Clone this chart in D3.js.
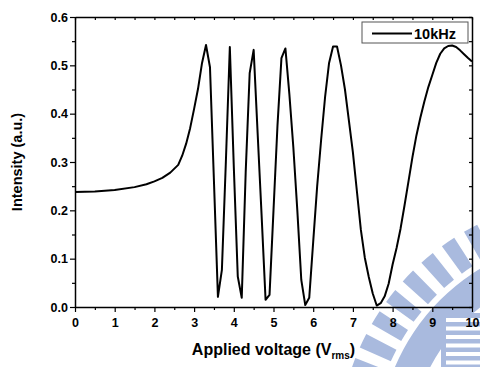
<!DOCTYPE html>
<html>
<head>
<meta charset="utf-8">
<script src="https://cdn.jsdelivr.net/npm/d3@7"></script>
<style>
  body { margin: 0; background: #fff; }
  svg text { font-family: "Liberation Sans", Arial, sans-serif; font-weight: bold; }
</style>
</head>
<body>
<div id="chart"></div>
<script>
// Data (Applied voltage in V_rms, intensity in a.u.)
const voltage = [0, 0.5, 1.0, 1.5, 1.8, 2.0, 2.2, 2.4, 2.6, 2.7, 2.8, 2.9, 3.0, 3.1, 3.2, 3.3, 3.4, 3.5,
  3.6, 3.7, 3.8, 3.9, 4.0, 4.1, 4.2, 4.3, 4.4, 4.5, 4.6, 4.7, 4.8, 4.9, 5.0, 5.1, 5.2, 5.3,
  5.4, 5.5, 5.6, 5.7, 5.8, 5.9, 6.0, 6.1, 6.2, 6.3, 6.4, 6.5, 6.6, 6.7, 6.8, 6.9, 7.0, 7.1,
  7.2, 7.3, 7.4, 7.5, 7.6, 7.7, 7.8, 7.9, 8.0, 8.1, 8.2, 8.3, 8.4, 8.5, 8.6, 8.7, 8.8, 8.9,
  9.0, 9.1, 9.2, 9.3, 9.4, 9.5, 9.6, 9.7, 9.8, 9.9, 10.0];
const intensity = [0.238, 0.239, 0.242, 0.248, 0.254, 0.260, 0.267, 0.278, 0.294, 0.313, 0.338, 0.370, 0.410, 0.452, 0.505, 0.542, 0.496, 0.260,
  0.021, 0.077, 0.300, 0.538, 0.290, 0.063, 0.019, 0.280, 0.484, 0.532, 0.360, 0.190, 0.015, 0.025, 0.200, 0.375, 0.515, 0.535,
  0.440, 0.330, 0.200, 0.056, 0.004, 0.019, 0.135, 0.250, 0.346, 0.435, 0.505, 0.539, 0.539, 0.500, 0.450, 0.385, 0.320, 0.240,
  0.160, 0.102, 0.062, 0.028, 0.003, 0.008, 0.022, 0.048, 0.088, 0.122, 0.162, 0.210, 0.260, 0.310, 0.355, 0.392, 0.425, 0.455,
  0.480, 0.505, 0.524, 0.535, 0.540, 0.541, 0.538, 0.531, 0.523, 0.515, 0.508];
const seriesName = '10kHz';
const xTicks = [0, 1, 2, 3, 4, 5, 6, 7, 8, 9, 10];
const yTicks = [0.0, 0.1, 0.2, 0.3, 0.4, 0.5, 0.6];

const W = 480, H = 367;
const margin = { top: 17, right: 8, bottom: 60, left: 75 };
const width = W - margin.left - margin.right;
const height = H - margin.top - margin.bottom;

const root = d3.select('#chart').append('svg')
  .attr('width', W).attr('height', H);

// Watermark (light blue seal, bottom right)
const wm = root.append('g').attr('fill', '#a9bade');
const cx = 590, cy = 450;
const toothArc = d3.arc().innerRadius(218).outerRadius(252);
for (let a = -84; a < -20; a += 6) {
  wm.append('path')
    .attr('transform', `translate(${cx},${cy})`)
    .attr('d', toothArc({ startAngle: a * Math.PI / 180, endAngle: (a + 3.4) * Math.PI / 180 }));
}
wm.append('path')
  .attr('transform', `translate(${cx},${cy})`)
  .attr('d', d3.arc().innerRadius(180).outerRadius(212)({ startAngle: -Math.PI / 2, endAngle: 0 }));
wm.append('rect').attr('x', 441).attr('y', 313).attr('width', 39).attr('height', 54).attr('fill', '#a9bade');
for (let i = 0; i < 6; i++) {
  wm.append('rect').attr('x', 446).attr('y', 318 + i * 8.5).attr('width', 34).attr('height', 4).attr('fill', '#fff');
}

const svg = root.append('g')
  .attr('transform', `translate(${margin.left},${margin.top})`);

const xScale = d3.scaleLinear().domain([0, 10]).range([0, width]);
const yScale = d3.scaleLinear().domain([0, 0.6]).range([height, 0]);

const xMinor = d3.range(0.5, 10, 1);
const yMinor = d3.range(0.05, 0.6, 0.1);

// Bottom axis
svg.append('g').attr('transform', `translate(0,${height})`)
  .call(d3.axisBottom(xScale).tickValues(xTicks).tickFormat(d3.format('d')).tickSizeInner(5).tickSizeOuter(0).tickPadding(6));
svg.append('g').attr('transform', `translate(0,${height})`)
  .call(d3.axisBottom(xScale).tickValues(xMinor).tickFormat('').tickSizeInner(3).tickSizeOuter(0))
  .select('.domain').remove();

// Left axis
svg.append('g')
  .call(d3.axisLeft(yScale).tickValues(yTicks).tickFormat(d3.format('.1f')).tickSizeInner(5).tickSizeOuter(0).tickPadding(2));
svg.append('g')
  .call(d3.axisLeft(yScale).tickValues(yMinor).tickFormat('').tickSizeInner(3).tickSizeOuter(0))
  .select('.domain').remove();

// Top axis (mirror, ticks inward)
svg.append('g')
  .call(d3.axisTop(xScale).tickValues(xTicks.concat(xMinor)).tickFormat('').tickSizeInner(-3).tickSizeOuter(0));
// Right axis (mirror, ticks inward)
svg.append('g').attr('transform', `translate(${width},0)`)
  .call(d3.axisRight(yScale).tickValues(yTicks.concat(yMinor)).tickFormat('').tickSizeInner(-3).tickSizeOuter(0));

svg.selectAll('.domain').attr('stroke', '#000').attr('stroke-width', 1.5);
svg.selectAll('.tick line').attr('stroke', '#000').attr('stroke-width', 1.2);
svg.selectAll('.tick text').attr('font-size', 12.5).attr('fill', '#000')
  .attr('font-family', '"Liberation Sans", Arial, sans-serif').attr('font-weight', 'bold');

// Curve
const data = voltage.map((v, i) => ({ x: v, y: intensity[i] }));
svg.append('path')
  .datum(data)
  .attr('fill', 'none')
  .attr('stroke', '#000')
  .attr('stroke-width', 2)
  .attr('stroke-linejoin', 'round')
  .attr('d', d3.line().x(d => xScale(d.x)).y(d => yScale(d.y)));

// Legend
const legend = svg.append('g').attr('transform', `translate(${362 - margin.left},${22 - margin.top})`);
legend.append('rect').attr('width', 106).attr('height', 21)
  .attr('fill', '#fff').attr('stroke', '#555').attr('stroke-width', 1);
legend.append('line').attr('x1', 10).attr('x2', 50).attr('y1', 11.5).attr('y2', 11.5)
  .attr('stroke', '#000').attr('stroke-width', 2);
legend.append('text').attr('x', 52).attr('y', 16.5).attr('font-size', 14.5).text(seriesName);

// Axis titles
const xTitle = root.append('text')
  .attr('x', margin.left + width / 2).attr('y', 355)
  .attr('text-anchor', 'middle').attr('font-size', 16);
xTitle.append('tspan').text('Applied voltage (V');
xTitle.append('tspan').attr('font-size', 10).attr('dy', 4).text('rms');
xTitle.append('tspan').attr('dy', -4).text(')');

root.append('text')
  .attr('transform', `translate(22,${margin.top + height / 2}) rotate(-90)`)
  .attr('text-anchor', 'middle').attr('font-size', 14.5)
  .text('Intensity (a.u.)');
</script>
</body>
</html>
